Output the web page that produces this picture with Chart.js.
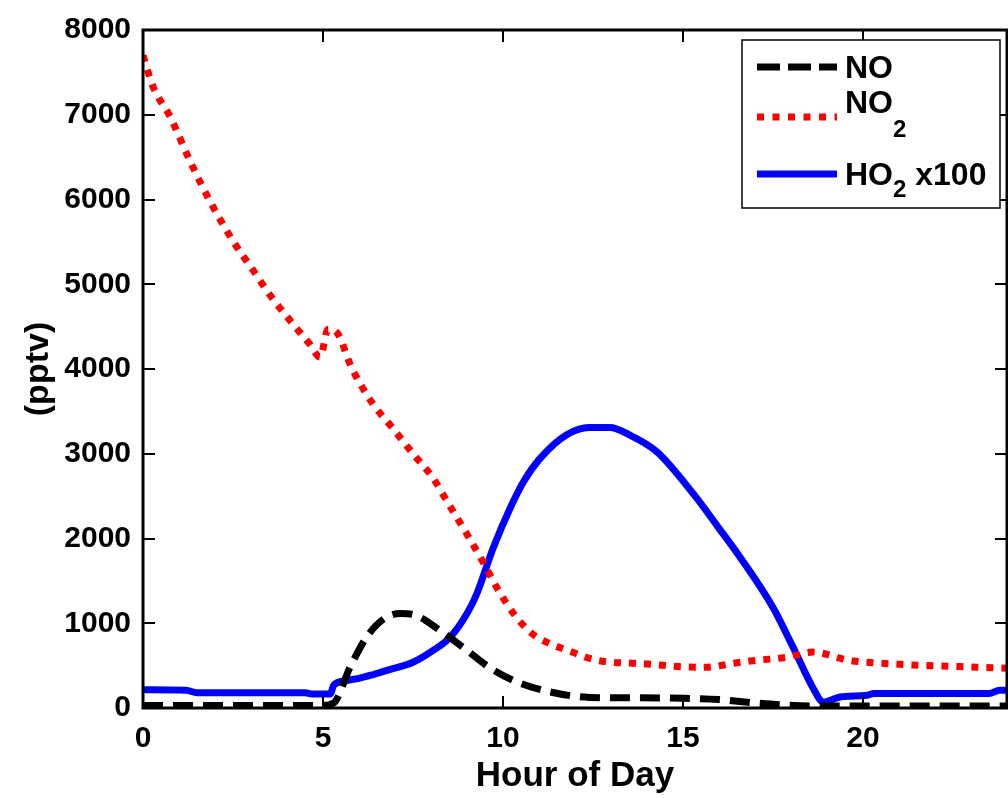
<!DOCTYPE html>
<html><head><meta charset="utf-8">
<script src="https://cdn.jsdelivr.net/npm/chart.js@4/dist/chart.umd.min.js"></script>
<style>html,body{margin:0;padding:0;background:#fff}#wrap{width:1008px;height:798px}canvas{display:block}</style>
</head><body><div id="wrap"><canvas id="c" width="1008" height="798"></canvas></div>
<script>
const xTicks = [0, 5, 10, 15, 20];
const yTicks = [0, 1000, 2000, 3000, 4000, 5000, 6000, 7000, 8000];
const xTitle = 'Hour of Day';
const yTitle = '(pptv)';

const hoursNO  = [0, 1, 2, 3, 4, 5, 5.3, 5.75, 6.2, 6.7, 7.15, 7.6, 8.25, 9, 9.65, 10.4, 11.3, 12.4, 13.5, 15, 16, 17, 17.8, 18.5, 19, 20, 21, 22, 23, 24];
const valuesNO = [30, 30, 30, 30, 30, 30, 60, 480, 830, 1055, 1115, 1090, 915, 680, 470, 305, 190, 125, 120, 115, 100, 60, 35, 25, 25, 25, 25, 25, 25, 25];

const hoursNO2  = [0, 0.28, 0.75, 1.3, 1.86, 2.5, 3.05, 3.53, 4.08, 4.64, 4.92, 5.14, 5.42, 5.75, 6, 6.4, 6.94, 7.5, 8.06, 8.5, 9, 9.5, 9.83, 10.3, 10.8, 11.3, 11.8, 12.6, 13.6, 14, 15, 15.65, 16.4, 17.05, 17.9, 18.6, 19.6, 21, 22.4, 24];
const valuesNO2 = [7700, 7330, 6980, 6460, 5980, 5510, 5170, 4870, 4575, 4290, 4140, 4470, 4410, 4060, 3850, 3580, 3300, 3000, 2710, 2400, 2050, 1680, 1420, 1110, 880, 760, 680, 563, 528, 520, 485, 481, 528, 563, 600, 660, 563, 516, 493, 470];

const hoursHO2  = [0, 1.2, 1.5, 4.5, 4.7, 5.2, 5.3, 5.6, 6, 6.4, 6.8, 7.5, 8.06, 8.53, 9, 9.27, 9.73, 10.2, 10.57, 11.03, 11.77, 12.4, 12.97, 13.5, 14.27, 15.3, 16, 16.6, 17.5, 18.06, 18.6, 18.9, 19.36, 20.1, 20.3, 23.5, 23.8, 24];
const valuesHO2 = [215, 210, 180, 180, 165, 165, 270, 320, 350, 395, 446, 540, 680, 833, 1114, 1345, 1890, 2360, 2670, 2945, 3225, 3310, 3310, 3225, 3025, 2520, 2120, 1770, 1185, 715, 246, 70, 130, 150, 170, 170, 210, 210];

const legendEntries = [
  {main: 'NO', sub: '', rest: ''},
  {main: 'NO', sub: '2', rest: ''},
  {main: 'HO', sub: '2', rest: ' x100'}
];

function pts(h, v) { return h.map((x, i) => ({x: x, y: v[i]})); }

const FONT = "'Liberation Sans', Arial, sans-serif";

const axesPlugin = {
  id: 'matlabAxes',
  afterDraw(chart) {
    const ctx = chart.ctx;
    const a = chart.chartArea;
    const xs = chart.scales.x, ys = chart.scales.y;
    ctx.save();
    ctx.strokeStyle = '#000';
    ctx.lineWidth = 3;
    ctx.strokeRect(a.left, a.top, a.right - a.left, a.bottom - a.top);
    ctx.lineWidth = 2;
    const tl = 12;
    ctx.beginPath();
    xTicks.forEach(v => {
      const px = Math.round(xs.getPixelForValue(v));
      ctx.moveTo(px, a.bottom); ctx.lineTo(px, a.bottom - tl);
      ctx.moveTo(px, a.top); ctx.lineTo(px, a.top + tl);
    });
    yTicks.forEach(v => {
      const py = Math.round(ys.getPixelForValue(v));
      ctx.moveTo(a.left, py); ctx.lineTo(a.left + tl, py);
      ctx.moveTo(a.right, py); ctx.lineTo(a.right - tl, py);
    });
    ctx.stroke();

    // legend
    const bx = 742, by = 40, bw = 258, bh = 168;
    ctx.fillStyle = '#fff';
    ctx.fillRect(bx, by, bw, bh);
    ctx.lineWidth = 1.5;
    ctx.strokeRect(bx, by, bw, bh);
    const rows = [67, 117, 174];
    const mainBase = [78, 113, 185];
    const subBase = [0, 137, 197];
    chart.data.datasets.forEach((ds, i) => {
      const y = rows[i];
      ctx.save();
      ctx.strokeStyle = ds.borderColor;
      ctx.lineWidth = ds.borderWidth;
      ctx.lineCap = 'butt';
      ctx.setLineDash(i === 0 ? [23, 8] : (i === 1 ? [7, 8.5] : []));
      ctx.beginPath();
      ctx.moveTo(757, y); ctx.lineTo(837, y);
      ctx.stroke();
      ctx.restore();
      const e = legendEntries[i];
      ctx.fillStyle = '#000';
      ctx.textBaseline = 'alphabetic';
      ctx.textAlign = 'left';
      ctx.font = 'bold 32px ' + FONT;
      let tx = 845;
      ctx.fillText(e.main, tx, mainBase[i]);
      tx += ctx.measureText(e.main).width;
      if (e.sub) {
        ctx.font = 'bold 24px ' + FONT;
        ctx.fillText(e.sub, tx, subBase[i]);
        tx += ctx.measureText(e.sub).width;
      }
      if (e.rest) {
        ctx.font = 'bold 32px ' + FONT;
        ctx.fillText(e.rest, tx, mainBase[i]);
      }
    });
    ctx.restore();
  }
};

new Chart(document.getElementById('c'), {
  type: 'line',
  data: {
    datasets: [
      {label: 'NO', data: pts(hoursNO, valuesNO), borderColor: '#000000', borderWidth: 7, borderDash: [20, 10], pointRadius: 0, tension: 0.3, cubicInterpolationMode: 'monotone', fill: false},
      {label: 'NO2', data: pts(hoursNO2, valuesNO2), borderColor: '#ff0000', borderWidth: 7, borderDash: [7, 8], pointRadius: 0, tension: 0.3, cubicInterpolationMode: 'monotone', fill: false},
      {label: 'HO2 x100', data: pts(hoursHO2, valuesHO2), borderColor: '#0000ff', borderWidth: 7, pointRadius: 0, tension: 0.3, cubicInterpolationMode: 'monotone', fill: false}
    ]
  },
  options: {
    responsive: false,
    animation: false,
    devicePixelRatio: 1,
    layout: {padding: {top: 26, right: 1, left: 0, bottom: 0}},
    plugins: {legend: {display: false}, tooltip: {enabled: false}},
    scales: {
      x: {
        type: 'linear', min: 0, max: 24,
        afterBuildTicks: s => { s.ticks = xTicks.map(v => ({value: v})); },
        afterFit: s => { s.height = 90; },
        grid: {display: false, drawTicks: false},
        border: {display: false},
        ticks: {color: '#000', font: {family: FONT, size: 30, weight: 'bold'}, padding: 13, maxRotation: 0, callback: v => String(v)},
        title: {display: true, text: xTitle, color: '#000', font: {family: FONT, size: 35, weight: 'bold'}, padding: {top: 1, bottom: 1}}
      },
      y: {
        type: 'linear', min: 0, max: 8000,
        afterBuildTicks: s => { s.ticks = yTicks.map(v => ({value: v})); },
        afterFit: s => { s.width = 143; },
        grid: {display: false, drawTicks: false},
        border: {display: false},
        ticks: {color: '#000', font: {family: FONT, size: 30, weight: 'bold'}, padding: 12, callback: v => String(v)},
        title: {display: true, text: yTitle, color: '#000', font: {family: FONT, size: 34, weight: 'bold'}, padding: {top: 18, bottom: 0}}
      }
    }
  },
  plugins: [axesPlugin]
});
</script>
</body></html>
